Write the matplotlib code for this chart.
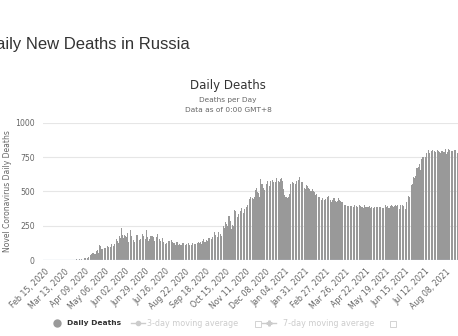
import matplotlib
matplotlib.use("Agg")
import matplotlib.pyplot as plt
from matplotlib.lines import Line2D
from matplotlib.patches import Rectangle

# daily deaths, Feb 15, 2020 -> Aug 24, 2021
feb20 = [0] * 15
mar20 = [0] * 18 + [1, 0, 0, 0, 0, 1, 1, 0, 1, 0, 5, 0, 8]
apr20 = [2, 7, 9, 4, 4, 2, 11, 5, 13, 18, 12, 13, 12, 24, 22, 28, 33, 41, 48, 48,
         51, 44, 57, 42, 66, 72, 47, 50, 108, 101]
may20 = [96, 77, 80, 76, 95, 86, 88, 98, 88, 104, 94, 107, 96, 93, 113, 119, 94, 101,
         115, 135, 127, 150, 139, 153, 122, 174, 161, 174, 232, 181, 158]
jun20 = [162, 182, 178, 169, 144, 197, 134, 171, 171, 216, 174, 181, 194, 143, 129,
         153, 194, 182, 183, 161, 149, 145, 153, 154, 176, 188, 176, 154, 143, 154]
jul20 = [216, 147, 168, 135, 154, 198, 173, 174, 175, 188, 168, 135, 167, 153, 165,
         186, 147, 155, 150, 135, 165, 150, 161, 129, 145, 124, 120, 125, 147, 150, 137]
aug20 = [135, 125, 120, 144, 129, 114, 124, 123, 110, 117, 130, 129, 112, 127, 118,
         111, 112, 114, 123, 121, 118, 119, 108, 115, 122, 117, 121, 110, 114, 112, 108]
sep20 = [123, 112, 119, 117, 120, 116, 118, 122, 132, 119, 127, 129, 119, 121, 137,
         154, 132, 144, 134, 143, 139, 149, 160, 160, 157, 169, 155, 166, 186, 170]
oct20 = [201, 185, 184, 177, 169, 202, 239, 198, 186, 174, 190, 195, 244, 232, 286,
         279, 265, 245, 248, 317, 320, 283, 251, 229, 254, 250, 320, 366, 355, 320, 278]
nov20 = [313, 333, 389, 386, 355, 378, 349, 346, 341, 368, 432, 439, 387, 398, 392,
         395, 442, 456, 463, 461, 451, 441, 441, 456, 507, 524, 510, 496, 485, 456]
dec20 = [569, 589, 554, 555, 540, 526, 510, 561, 559, 550, 573, 560, 548, 541, 578,
         587, 562, 584, 567, 561, 559, 569, 598, 635, 593, 575, 568, 569, 593, 600, 575]
jan21 = [556, 514, 477, 462, 452, 461, 455, 456, 470, 482, 551, 591, 549, 569, 560,
         567, 552, 557, 573, 594, 587, 585, 602, 576, 567, 568, 567, 558, 541, 527, 518]
feb21 = [549, 547, 541, 521, 530, 517, 506, 504, 526, 519, 505, 497, 487, 474, 483,
         477, 464, 462, 460, 449, 446, 436, 449, 444, 452, 439, 446, 439]
mar21 = [437, 459, 464, 442, 439, 434, 425, 422, 439, 450, 449, 443, 432, 424, 431,
         442, 449, 438, 427, 424, 421, 419, 429, 414, 404, 400, 392, 390, 390, 390, 396]
apr21 = [398, 391, 392, 385, 388, 385, 398, 399, 393, 390, 386, 382, 385, 401, 392,
         388, 383, 386, 381, 381, 397, 384, 387, 386, 384, 387, 391, 386, 380, 386]
may21 = [385, 382, 381, 389, 392, 390, 384, 388, 385, 376, 387, 389, 379, 381, 381,
         379, 389, 389, 398, 384, 385, 390, 380, 380, 386, 396, 398, 394, 392, 388, 390]
jun21 = [399, 389, 394, 398, 396, 380, 368, 397, 394, 396, 401, 393, 372, 366, 369,
         420, 453, 440, 466, 459, 440, 454, 548, 557, 598, 608, 599, 610, 652, 669]
jul21 = [672, 679, 697, 697, 654, 737, 726, 749, 752, 764, 752, 749, 780, 791, 786,
         799, 779, 784, 763, 791, 799, 798, 795, 794, 784, 767, 775, 799, 794, 787, 790]
aug21 = [778, 793, 790, 792, 789, 790, 795, 808, 772, 784, 801, 807, 799, 792, 790,
         796, 794, 789, 795, 799, 798, 795, 781, 780]

deaths = (feb20 + mar20 + apr20 + may20 + jun20 + jul20 + aug20 + sep20 + oct20 +
          nov20 + dec20 + jan21 + feb21 + mar21 + apr21 + may21 + jun21 + jul21 + aug21)

tick_labels = ["Feb 15, 2020", "Mar 13, 2020", "Apr 09, 2020", "May 06, 2020",
               "Jun 02, 2020", "Jun 29, 2020", "Jul 26, 2020", "Aug 22, 2020",
               "Sep 18, 2020", "Oct 15, 2020", "Nov 11, 2020", "Dec 08, 2020",
               "Jan 04, 2021", "Jan 31, 2021", "Feb 27, 2021", "Mar 26, 2021",
               "Apr 22, 2021", "May 19, 2021", "Jun 15, 2021", "Jul 12, 2021",
               "Aug 08, 2021"]
y_ticks = [0, 250, 500, 750, 1000]

W, H = 458, 336
fig = plt.figure(figsize=(W / 100, H / 100), dpi=100)

def fx(px):
    return px / W

def fy(py):
    return 1 - py / H

ax = fig.add_axes([fx(43), fy(260), fx(458 - 43), (260 - 122.7) / H])
ax.bar(range(len(deaths)), deaths, width=0.8, color="#999999", linewidth=0, zorder=2)
ax.set_xlim(-2, 556.5)
ax.set_ylim(0, 1000)

for s in ax.spines.values():
    s.set_visible(False)
ax.set_yticks(y_ticks)
ax.set_yticklabels([str(v) for v in y_ticks])
ax.grid(axis="y", color="#e6e6e6", linewidth=0.8, zorder=0)
ax.axhline(0, color="#ccd6eb", linewidth=0.9, zorder=3)
ax.tick_params(axis="y", length=0, pad=6, labelsize=5.6, labelcolor="#666666")

ax.set_xticks(range(0, len(tick_labels) * 27, 27))
ax.set_xticklabels(tick_labels, rotation=45, ha="right", rotation_mode="anchor")
ax.tick_params(axis="x", length=0, pad=5, labelsize=5.7, labelcolor="#666666")

fig.text(fx(190), fy(49.5), "Daily New Deaths in Russia", ha="right", va="baseline",
         fontsize=12, color="#333333", family="Liberation Sans")
fig.text(fx(228), fy(85), "Daily Deaths", ha="center", va="center",
         fontsize=8.5, color="#333333")
fig.text(fx(228), fy(100), "Deaths per Day", ha="center", va="center",
         fontsize=5.3, color="#666666")
fig.text(fx(228), fy(110), "Data as of 0:00 GMT+8", ha="center", va="center",
         fontsize=5.3, color="#666666")
fig.text(fx(8), fy(191), "Novel Coronavirus Daily Deaths", rotation=90,
         ha="center", va="center", fontsize=5.5, color="#666666")

# legend
ly = fy(323)
fig.add_artist(Line2D([fx(57)], [ly], marker="o", markersize=5, color="#999999",
                      linestyle="none"))
fig.text(fx(67), ly, "Daily Deaths", ha="left", va="center", fontsize=5.4,
         fontweight="bold", color="#333333")
fig.add_artist(Line2D([fx(131), fx(145)], [ly, ly], color="#cccccc", linewidth=1))
fig.add_artist(Line2D([fx(138)], [ly], marker="o", markersize=3, color="#cccccc",
                      linestyle="none"))
fig.text(fx(147), ly, "3-day moving average", ha="left", va="center", fontsize=5.8,
         color="#cccccc")
fig.add_artist(Line2D([fx(262), fx(276)], [ly, ly], color="#cccccc", linewidth=1))
fig.add_artist(Line2D([fx(269)], [ly], marker="P", markersize=3.5, color="#cccccc",
                      linestyle="none"))
fig.text(fx(283), ly, "7-day moving average", ha="left", va="center", fontsize=5.8,
         color="#cccccc")
for bx in (255, 390):
    fig.add_artist(Rectangle((fx(bx), fy(327)), fx(6), 6 / H, fill=False,
                             edgecolor="#cccccc", linewidth=0.6))

fig.savefig("out.png", dpi=100)
